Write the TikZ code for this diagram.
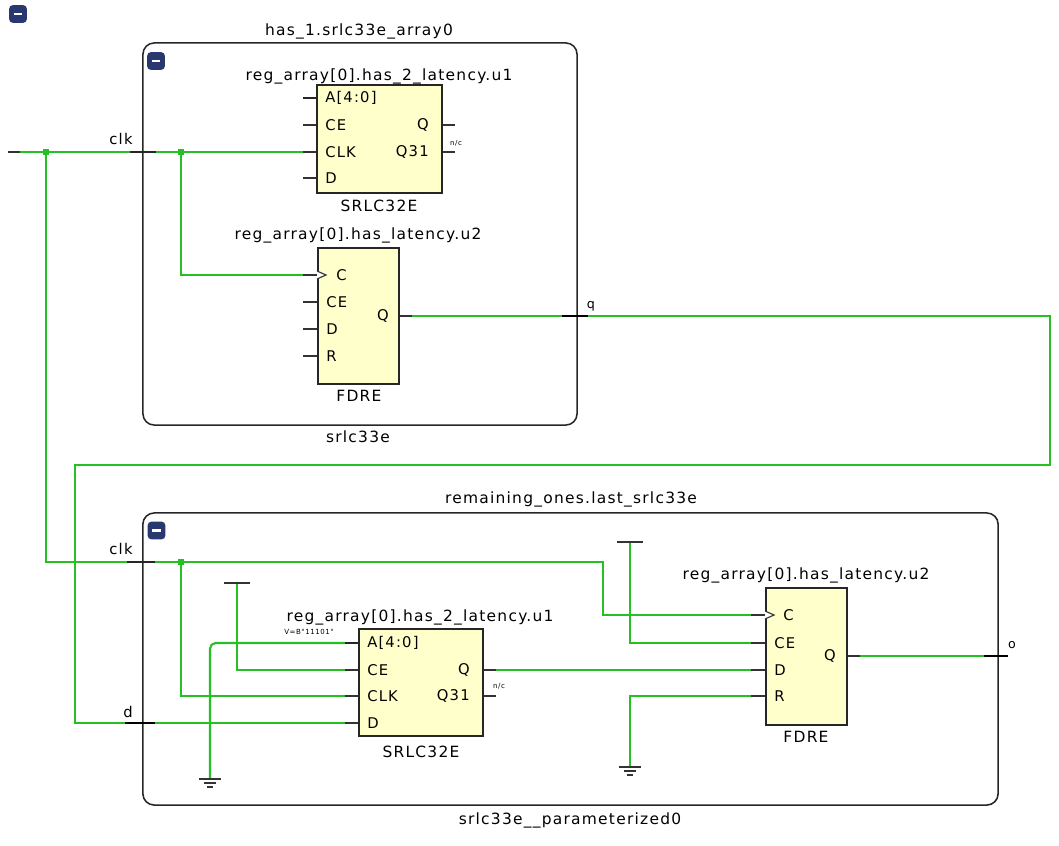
\documentclass[tikz,border=0pt]{standalone}
\usepackage{fontspec}
\newfontfamily\lbl[LetterSpace=8]{DejaVu Sans}
\usetikzlibrary{positioning}

\definecolor{netgreen}{RGB}{36,192,36}
\definecolor{cellfill}{RGB}{255,255,204}
\definecolor{hidebtn}{RGB}{42,56,112}

\newcommand{\namesize}{\lbl\fontsize{11}{13}\selectfont}
\newcommand{\pinsize}{\lbl\fontsize{10.5}{12}\selectfont}
\newcommand{\portsize}{\lbl\fontsize{9}{10}\selectfont}
\newcommand{\notesize}{\lbl\fontsize{5}{6}\selectfont}

\begin{document}
\begin{tikzpicture}[
    x=0.025cm, y=-0.025cm,
    wire/.style={draw=netgreen, line width=0.9pt},
    stub/.style={draw=black!80, line width=0.8pt},
    busstub/.style={draw=black!85, line width=2pt},
    porttick/.style={draw=black, line width=1.9pt},
    clktick/.style={draw=black!85, line width=1.1pt},
    block/.style={draw=black!85, line width=1.1pt, rounded corners=8pt, inner sep=0pt},
    cell/.style={draw=black!85, fill=cellfill, line width=0.9pt, inner sep=0pt},
    pin/.style={anchor=west, inner sep=0pt, font=\pinsize},
    pout/.style={anchor=east, inner sep=0pt, font=\pinsize},
    inst/.style={inner sep=0pt, font=\namesize},
    port/.style={inner sep=0pt, font=\pinsize},
    note/.style={inner sep=0pt, font=\notesize},
    dot/.style={fill=netgreen, minimum size=0.17cm, inner sep=0pt},
    hide/.style={fill=hidebtn, rounded corners=2.5pt, minimum size=0.44cm, inner sep=0pt,
        path picture={\draw[white, line width=1.6pt]
            ([xshift=-3pt]path picture bounding box.center) --
            ([xshift=3pt]path picture bounding box.center);}},
]
    \useasboundingbox (0,0) rectangle (1059,846);

    % hierarchy blocks
    \node[hide] (hideTop) at (18,14) {};
    \node[inst] (arrayName) at (359,31) {has\_1.srlc33e\_array0};

    \node[block, minimum width=10.85cm, minimum height=9.55cm] (srlc) at (360,234) {};
    \node[hide] (hideSrlc) at (156,61) {};
    \node[inst] (srlcName) at (358,437) {srlc33e};

    \node[block, minimum width=21.375cm, minimum height=7.3cm] (lastSrlc) at (570.5,659) {};
    \node[hide] (hideLast) at (156.5,530.5) {};
    \node[inst] (lastName) at (571,499) {remaining\_ones.last\_srlc33e};
    \node[inst] (lastType) at (570,820) {srlc33e\_\_parameterized0};

    % cells
    \node[cell, minimum width=3.125cm, minimum height=2.7cm] (srlA) at (379.5,139) {};
    \node[inst] (srlA-name) at (379,76) {reg\_array[0].has\_2\_latency.u1};
    \node[inst] (srlA-type) at (379,206) {SRLC32E};

    \node[cell, minimum width=2.025cm, minimum height=3.4cm] (ffA) at (358.5,316) {};
    \node[inst] (ffA-name) at (358,235) {reg\_array[0].has\_latency.u2};
    \node[inst] (ffA-type) at (359,396) {FDRE};

    \node[cell, minimum width=3.1cm, minimum height=2.675cm] (srlB) at (421,682.5) {};
    \node[inst] (srlB-name) at (420,617) {reg\_array[0].has\_2\_latency.u1};
    \node[inst] (srlB-type) at (421,752) {SRLC32E};

    \node[cell, minimum width=2.025cm, minimum height=3.425cm] (ffB) at (806.5,656.5) {};
    \node[inst] (ffB-name) at (806,575) {reg\_array[0].has\_latency.u2};
    \node[inst] (ffB-type) at (806,737) {FDRE};

    % pin ends
    \foreach \p/\yy in {a/98, ce/125, clk/152, d/178}
        \coordinate (srlA-\p) at (303,\yy);
    \foreach \p/\yy in {q/125, qs/152}
        \coordinate (srlA-\p) at (455,\yy);
    \foreach \p/\yy in {c/275, ce/302, d/329, r/356}
        \coordinate (ffA-\p) at (303,\yy);
    \coordinate (ffA-q) at (412,316);
    \foreach \p/\yy in {a/643, ce/670, clk/696, d/723}
        \coordinate (srlB-\p) at (345,\yy);
    \foreach \p/\yy in {q/670, qs/696}
        \coordinate (srlB-\p) at (496,\yy);
    \foreach \p/\yy in {c/615, ce/643, d/670, r/696}
        \coordinate (ffB-\p) at (751,\yy);
    \coordinate (ffB-q) at (860,656);

    % net points
    \coordinate (clkIn)   at (8,152);
    \coordinate (clkBend) at (603,562);
    \coordinate (qTurnA)  at (1050,465);
    \coordinate (qTurnB)  at (75,465);
    \coordinate (oPort)   at (998,656);
    \coordinate (vccA) at (237,583);
    \coordinate (gndA) at (210,779);
    \coordinate (vccB) at (630,542);
    \coordinate (gndB) at (630,767);

    % nets
    \draw[wire] (clkIn) -- (srlA-clk);
    \draw[wire] (181,152) |- (ffA-c);
    \draw[wire] (46,152) |- (clkBend) |- (ffB-c);
    \draw[wire] (181,562) |- (srlB-clk);
    \draw[wire] (ffA-q) -| (qTurnA) -- (qTurnB) |- (srlB-d);
    \draw[wire] (srlB-q) -- (ffB-d);
    \draw[wire] (vccA) |- (srlB-ce);
    \draw[wire, line width=1.5pt, rounded corners=4pt] (gndA) |- (srlB-a);
    \draw[wire] (vccB) |- (ffB-ce);
    \draw[wire] (ffB-r) -| (gndB);
    \draw[wire] (ffB-q) -- (oPort);

    \node[dot] (jTopA) at (46,152) {};
    \node[dot] (jTopB) at (181,152) {};
    \node[dot] (jBot) at (181,562) {};

    % power and ground
    \draw[stub] (vccA) ++(-13,0) -- ++(26,0);
    \draw[stub] (vccB) ++(-13,0) -- ++(26,0);
    \draw[stub] (gndA) ++(-11,0) -- ++(22,0) ++(-17,4) -- ++(12,0) ++(-9,4) -- ++(6,0);
    \draw[stub] (gndB) ++(-11,0) -- ++(22,0) ++(-17,4) -- ++(12,0) ++(-9,4) -- ++(6,0);

    % pin stubs
    \draw[stub] (clkIn) -- ++(12,0);
    \draw[busstub] (srlA-a) -- (srlA-a -| srlA.west);
    \foreach \p in {ce, clk, d}
        \draw[stub] (srlA-\p) -- (srlA-\p -| srlA.west);
    \foreach \p in {q, qs}
        \draw[stub] (srlA-\p) -- (srlA-\p -| srlA.east);
    \foreach \p in {c, ce, d, r}
        \draw[stub] (ffA-\p) -- (ffA-\p -| ffA.west);
    \draw[stub] (ffA-q) -- (ffA-q -| ffA.east);
    \draw[busstub] (srlB-a) -- (srlB-a -| srlB.west);
    \foreach \p in {ce, clk, d}
        \draw[stub] (srlB-\p) -- (srlB-\p -| srlB.west);
    \foreach \p in {q, qs}
        \draw[stub] (srlB-\p) -- (srlB-\p -| srlB.east);
    \foreach \p in {c, ce, d, r}
        \draw[stub] (ffB-\p) -- (ffB-\p -| ffB.west);
    \draw[stub] (ffB-q) -- (ffB-q -| ffB.east);

    % clock marks
    \draw[stub, fill=white] (317,271) -- (326,275) -- (317,279);
    \draw[stub, fill=white] (765,611) -- (774,615) -- (765,619);

    % pin labels
    \node[pin] (srlA-a-l)   at (325,98)  {A[4:0]};
    \node[pin] (srlA-ce-l)  at (325,125) {CE};
    \node[pin] (srlA-clk-l) at (325,152) {CLK};
    \node[pin] (srlA-d-l)   at (325,178) {D};
    \node[pout] (srlA-q-l)  at (429,125) {Q};
    \node[pout] (srlA-qs-l) at (429,152) {Q31};
    \node[note] (srlA-nc)   at (456,143) {n/c};

    \node[pin] (ffA-c-l)  at (336,275) {C};
    \node[pin] (ffA-ce-l) at (326,302) {CE};
    \node[pin] (ffA-d-l)  at (326,329) {D};
    \node[pin] (ffA-r-l)  at (326,356) {R};
    \node[pout] (ffA-q-l) at (389,316) {Q};

    \node[pin] (srlB-a-l)   at (367,643) {A[4:0]};
    \node[pin] (srlB-ce-l)  at (367,670) {CE};
    \node[pin] (srlB-clk-l) at (367,696) {CLK};
    \node[pin] (srlB-d-l)   at (367,723) {D};
    \node[pout] (srlB-q-l)  at (470,670) {Q};
    \node[pout] (srlB-qs-l) at (470,696) {Q31};
    \node[note] (srlB-nc)   at (499,686) {n/c};
    \node[note] (srlB-init) at (309,632) {V=B"11101"};

    \node[pin] (ffB-c-l)  at (783,615) {C};
    \node[pin] (ffB-ce-l) at (774,643) {CE};
    \node[pin] (ffB-d-l)  at (774,670) {D};
    \node[pin] (ffB-r-l)  at (774,696) {R};
    \node[pout] (ffB-q-l) at (836,656) {Q};

    % ports
    \draw[clktick] (130,152) -- (156,152);
    \draw[porttick] (562,316) -- (588,316);
    \draw[clktick] (127,562) -- (155,562);
    \draw[porttick] (125,723) -- (155,723);
    \draw[porttick] (984,656) -- (1008,656);
    \node[port] (clkA-l) at (121,139) {clk};
    \node[port, font=\portsize] (q-l) at (591,306) {q};
    \node[port] (clkB-l) at (121,549) {clk};
    \node[port] (d-l) at (128,712) {d};
    \node[port, font=\portsize] (o-l) at (1012,645) {o};
\end{tikzpicture}
\end{document}
